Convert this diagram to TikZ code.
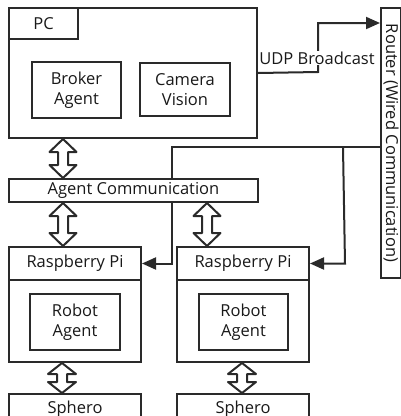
\documentclass[tikz,border=0pt]{standalone}
\usepackage{fontspec}
\setmainfont{Open Sans}
\usetikzlibrary{arrows.meta,backgrounds,calc}
\definecolor{lc}{HTML}{2A2A2A}
\newcommand{\hollowarrow}[6]{%
\draw[conn, fill=white, line join=round] let \p1=(#2), \p2=(#3) in
 ({(#1)*1pt},\y1) -- ({(#1+#4)*1pt},{\y1-#5*1pt}) -- ({(#1+#6)*1pt},{\y1-#5*1pt})
 -- ({(#1+#6)*1pt},{\y2+#5*1pt}) -- ({(#1+#4)*1pt},{\y2+#5*1pt}) -- ({(#1)*1pt},\y2)
 -- ({(#1-#4)*1pt},{\y2+#5*1pt}) -- ({(#1-#6)*1pt},{\y2+#5*1pt})
 -- ({(#1-#6)*1pt},{\y1-#5*1pt}) -- ({(#1-#4)*1pt},{\y1-#5*1pt}) -- cycle;}
\begin{document}
\begin{tikzpicture}[x=1pt,y=-1pt,
  txt/.style={text=black!90, font=\fontsize{16.5}{20}\selectfont},
  box/.style={draw=lc, line width=2pt, fill=white, inner sep=0pt, anchor=north west,
    align=center, txt},
  conn/.style={draw=lc, line width=2pt},
  tip/.style={-{Triangle[length=14pt,width=12pt]}}]
\useasboundingbox (0,0) rectangle (401,416);
\clip (0,0) rectangle (401,416);
% PC
\node[box, minimum width=248pt, minimum height=130pt] (pc) at (8,7) {};
\node[box, minimum width=69pt, minimum height=31pt] (pctab) at (8,7) {PC};
\node[box, minimum width=89pt, minimum height=56pt] (broker) at (31,61) {Broker\\Agent};
\node[box, minimum width=90pt, minimum height=53pt] (camera) at (139,62) {Camera\\Vision};
% Router
\node[box, minimum width=20pt, minimum height=270pt] (router) at (380,7) {};
\node[rotate=-90, txt] (routertext) at (router.center) {Router (Wired Communication)};
% Agent communication
\node[box, minimum width=249pt, minimum height=23pt] (ac) at (8,178) {Agent Communication};
% Raspberry Pis
\node[box, minimum width=132pt, minimum height=115pt] (rpi1) at (8,246) {};
\node[box, minimum width=132pt, minimum height=33pt] (rpi1h) at (8,246) {Raspberry Pi};
\node[box, minimum width=90pt, minimum height=56pt] (robot1) at (29,293) {Robot\\Agent};
\node[box, minimum width=132pt, minimum height=115pt] (rpi2) at (176,246) {};
\node[box, minimum width=132pt, minimum height=33pt] (rpi2h) at (176,246) {Raspberry Pi};
\node[box, minimum width=89pt, minimum height=56pt] (robot2) at (198,293) {Robot\\Agent};
% Spheros
\node[box, minimum width=132pt, minimum height=30pt] (sph1) at (8,393) {Sphero};
\node[box, minimum width=132pt, minimum height=30pt] (sph2) at (176,393) {Sphero};
% connectors
\begin{pgfonlayer}{background}
\draw[conn, tip] (pc.east) -- (318,72) -- (318,23) -- (router.west |- 0,23);
\draw[conn, tip] (router.west |- 0,147) -| ($(rpi1h.east)+(30,0)$) -- (rpi1h.east);
\coordinate (junction) at (343,147);
\draw[conn, tip] (junction) -- ($(rpi2h.east)+(35,0)$) -- (rpi2h.east);
\end{pgfonlayer}
\node[fill=white, inner sep=1pt, txt] (udp) at (317,58) {UDP Broadcast};
% hollow double arrows
\hollowarrow{63}{pc.south}{ac.north}{13.5}{13}{5}
\hollowarrow{63}{ac.south}{rpi1.north}{13.5}{13}{5}
\hollowarrow{207}{ac.south}{rpi2.north}{13.5}{13}{5}
\hollowarrow{62}{rpi1.south}{sph1.north}{14}{11}{5}
\hollowarrow{242}{rpi2.south}{sph2.north}{14}{11}{5}
\end{tikzpicture}
\end{document}
